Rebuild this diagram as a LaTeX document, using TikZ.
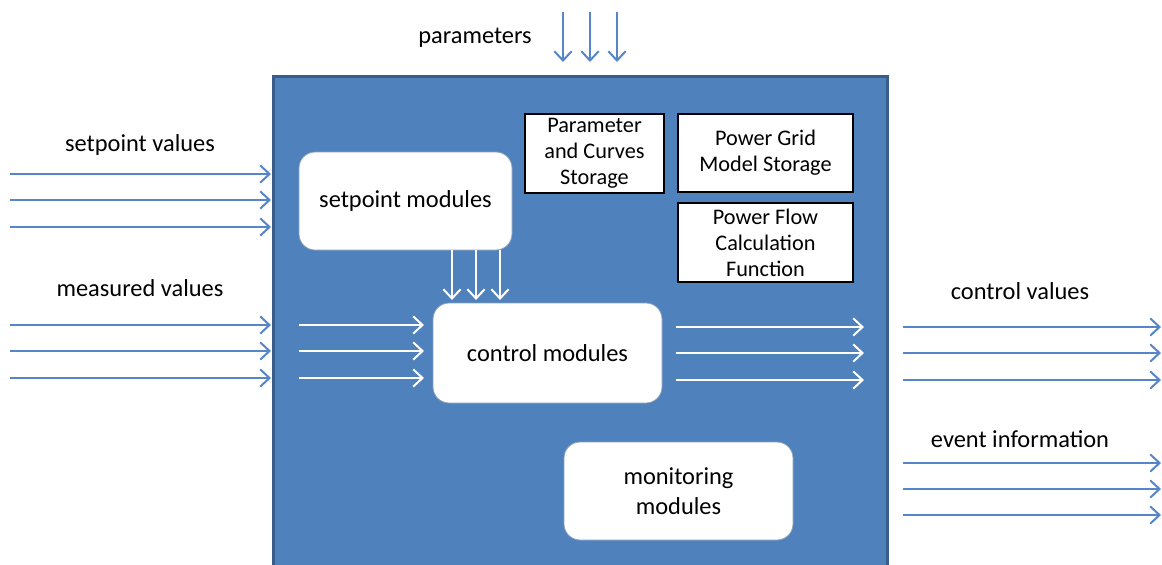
\documentclass[tikz,border=0pt]{standalone}
\usepackage{fontspec}
\setmainfont{Carlito}
\usetikzlibrary{arrows.meta}
\definecolor{bfill}{RGB}{79,129,189}
\definecolor{bedge}{RGB}{56,93,138}
\definecolor{bline}{RGB}{86,134,200}
\tikzset{
  lbl/.style={font=\fontsize{18.3}{22}\selectfont, inner sep=0pt},
  mod/.style={draw=bedge!60, line width=0.6pt, fill=white, rounded corners=12pt, font=\fontsize{18.3}{21.5}\selectfont, align=center},
  store/.style={draw=black, line width=1.5pt, fill=white, font=\fontsize{16.7}{19.5}\selectfont, align=center, inner sep=0pt},
  barr/.style={draw=bline, line width=1.5pt, -{Straight Barb[length=7pt,width=13pt,line width=1.5pt]}},
  warr/.style={draw=white, line width=1.5pt, -{Straight Barb[length=7pt,width=13pt,line width=1.5pt]}},
}
\begin{document}
\begin{tikzpicture}[x=0.75pt,y=-0.75pt]
\useasboundingbox (0,0) rectangle (1162,564);
% main block
\node[draw=bedge, line width=2.2pt, fill=bfill, minimum width=614*0.75pt, minimum height=500*0.75pt, anchor=north west, inner sep=0pt] (main) at (272,75) {};
% top parameters
\node[lbl] (par) at (475,38) {parameters};
\foreach \x [count=\i] in {563,590,617}{
  \coordinate (p\i) at (\x,12);
  \coordinate (pe\i) at (\x,62);
  \draw[barr] (p\i) -- (pe\i);
}
% inner boxes
\node[mod, minimum width=213*0.75pt, minimum height=98*0.75pt] (setm) at (405.5,201) {setpoint modules};
\node[mod, minimum width=229*0.75pt, minimum height=100*0.75pt] (ctrl) at (547.5,353) {control modules};
\node[mod, minimum width=229*0.75pt, minimum height=98*0.75pt] (mon) at (678.5,491) {monitoring\\[1pt]modules};
\node[store, minimum width=139*0.75pt, minimum height=79*0.75pt] (pcs) at (594.5,153.5) {Parameter\\and Curves\\Storage};
\node[store, minimum width=175*0.75pt, minimum height=78*0.75pt] (pgm) at (765.5,153) {Power Grid\\Model Storage};
\node[store, minimum width=175*0.75pt, minimum height=79*0.75pt] (pfc) at (765.5,242.5) {Power Flow\\Calculation\\Function};
% setpoint -> control
\foreach \x [count=\i] in {452,476,500}{
  \coordinate (s\i) at (\x,250);
  \coordinate (se\i) at (\x,300);
  \draw[warr] (s\i) -- (se\i);
}
% labels outside
\node[lbl] (spv) at (140,145) {setpoint values};
\node[lbl] (mv) at (140,288) {measured values};
\node[lbl] (cv) at (1020,291) {control values};
\node[lbl] (ei) at (1020,439) {event information};
% left inputs
\foreach \y [count=\i] in {174,200,227}{
  \coordinate (a\i) at (10,\y);
  \coordinate (ae\i) at (271,\y);
  \draw[barr] (a\i) -- (ae\i);
}
\foreach \y [count=\i] in {325,351,378}{
  \coordinate (m\i) at (10,\y);
  \coordinate (me\i) at (271,\y);
  \draw[barr] (m\i) -- (me\i);
  \coordinate (w\i) at (299,\y);
  \coordinate (we\i) at (424,\y);
  \draw[warr] (w\i) -- (we\i);
}
% outputs
\foreach \y [count=\i] in {327,353,380}{
  \coordinate (o\i) at (676,\y);
  \coordinate (oe\i) at (864,\y);
  \draw[warr] (o\i) -- (oe\i);
  \coordinate (c\i) at (903,\y);
  \coordinate (ce\i) at (1161,\y);
  \draw[barr] (c\i) -- (ce\i);
}
\foreach \y [count=\i] in {463,489,515}{
  \coordinate (e\i) at (903,\y);
  \coordinate (ee\i) at (1161,\y);
  \draw[barr] (e\i) -- (ee\i);
}
\end{tikzpicture}
\end{document}
